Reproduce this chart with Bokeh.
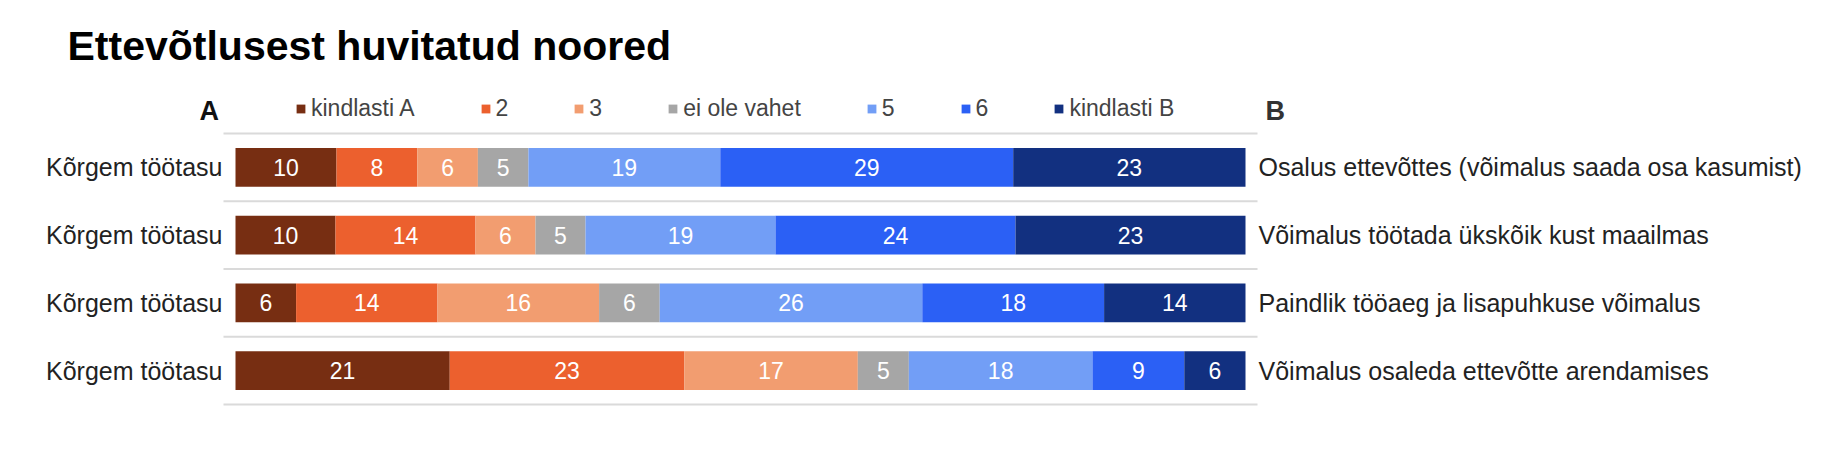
from bokeh.plotting import figure
from bokeh.models import Range1d, Legend, LegendItem, Label, ColumnDataSource
from bokeh.embed import file_html
from bokeh.resources import INLINE
from bokeh.core.properties import value

# ---------------- data ----------------
title_text = "Ettevõtlusest huvitatud noored"
left_labels = ["Kõrgem töötasu", "Kõrgem töötasu", "Kõrgem töötasu", "Kõrgem töötasu"]
right_labels = [
    "Osalus ettevõttes (võimalus saada osa kasumist)",
    "Võimalus töötada ükskõik kust maailmas",
    "Paindlik tööaeg ja lisapuhkuse võimalus",
    "Võimalus osaleda ettevõtte arendamises",
]
series = ["kindlasti A", "2", "3", "ei ole vahet", "5", "6", "kindlasti B"]
colors = ["#772E12", "#EC602E", "#F29D70", "#A6A6A6", "#729EF6", "#2B60F5", "#123080"]

v_kindlasti_a = [10, 10, 6, 21]
v_2 = [8, 14, 14, 23]
v_3 = [6, 6, 16, 17]
v_ei_ole_vahet = [5, 5, 6, 5]
v_5 = [19, 19, 26, 18]
v_6 = [29, 24, 18, 9]
v_kindlasti_b = [23, 23, 14, 6]
values = [v_kindlasti_a, v_2, v_3, v_ei_ole_vahet, v_5, v_6, v_kindlasti_b]

FONT = "Liberation Sans"
rows = list(range(len(left_labels)))

W, H = 1810, 436
# frame covers the whole canvas; scales map 0..100 % onto the bar area
PX_PER_PCT = 10.1
BAR_X0 = 235
ROW_PX = 67.75
ROW0_Y = 166.9

p = figure(width=W, height=H, output_backend="svg", toolbar_location=None,
           x_range=Range1d(-BAR_X0 / PX_PER_PCT, (W - BAR_X0) / PX_PER_PCT),
           y_range=Range1d((H - ROW0_Y) / ROW_PX, -ROW0_Y / ROW_PX),
           min_border=0)
p.outline_line_color = None
p.axis.visible = False
p.grid.visible = False
p.background_fill_color = "white"
p.border_fill_color = "white"

# row separators
sep_y = [r - 0.5 for r in rows] + [rows[-1] + 0.5]
p.segment(x0=-1.19, x1=101.19, y0=sep_y, y1=sep_y, line_color="#DADADA", line_width=2)

totals = [sum(v[i] for v in values) for i in rows]
cum = [0.0] * len(rows)
items = []
for name, vals, col in zip(series, values, colors):
    share = [100.0 * vals[i] / totals[i] for i in rows]
    left = cum[:]
    right = [cum[i] + share[i] for i in rows]
    mid = [(a + b) / 2 for a, b in zip(left, right)]
    src = ColumnDataSource(dict(y=rows, left=left, right=right, mid=mid,
                                lab=[str(x) for x in vals]))
    r = p.hbar(y="y", left="left", right="right", height=0.57, source=src,
               fill_color=col, line_color=None)
    items.append(LegendItem(label=name, renderers=[r]))
    p.text(x="mid", y="y", text="lab", source=src, text_color="white",
           text_align="center", text_baseline="middle",
           text_font=value(FONT), text_font_size="23px")
    cum = right

# category labels on both sides of the bars
lab_src = ColumnDataSource(dict(y=rows, left=left_labels, right=right_labels,
                                x0=[0] * len(rows), x1=[100] * len(rows)))
p.text(x="x0", y="y", text="left", source=lab_src, x_offset=-13,
       text_align="right", text_baseline="middle", text_color="#222222",
       text_font=value(FONT), text_font_size="25px")
p.text(x="x1", y="y", text="right", source=lab_src, x_offset=13,
       text_align="left", text_baseline="middle", text_color="#222222",
       text_font=value(FONT), text_font_size="25px")

legend = Legend(items=items, orientation="horizontal", location=(295, 314),
                glyph_width=11, glyph_height=11, label_standoff=5, spacing=65,
                label_width=0, label_height=24, padding=0, margin=0,
                border_line_color=None, background_fill_alpha=0,
                label_text_font=FONT, label_text_font_size="23px",
                label_text_color="#444444")
p.add_layout(legend, "center")

p.add_layout(Label(x=67, y=H - 45, x_units="screen", y_units="screen",
                   text=title_text, text_font=FONT, text_font_size="41px",
                   text_font_style="bold", text_color="black",
                   text_baseline="alphabetic"))
p.add_layout(Label(x=199, y=H - 110, x_units="screen", y_units="screen",
                   text="A", text_font=FONT, text_font_size="27px",
                   text_font_style="bold", text_color="#111111",
                   text_baseline="alphabetic"))
p.add_layout(Label(x=1265, y=H - 110, x_units="screen", y_units="screen",
                   text="B", text_font=FONT, text_font_size="27px",
                   text_font_style="bold", text_color="#333333",
                   text_baseline="alphabetic"))

open("out.html", "w").write(file_html(p, INLINE))
